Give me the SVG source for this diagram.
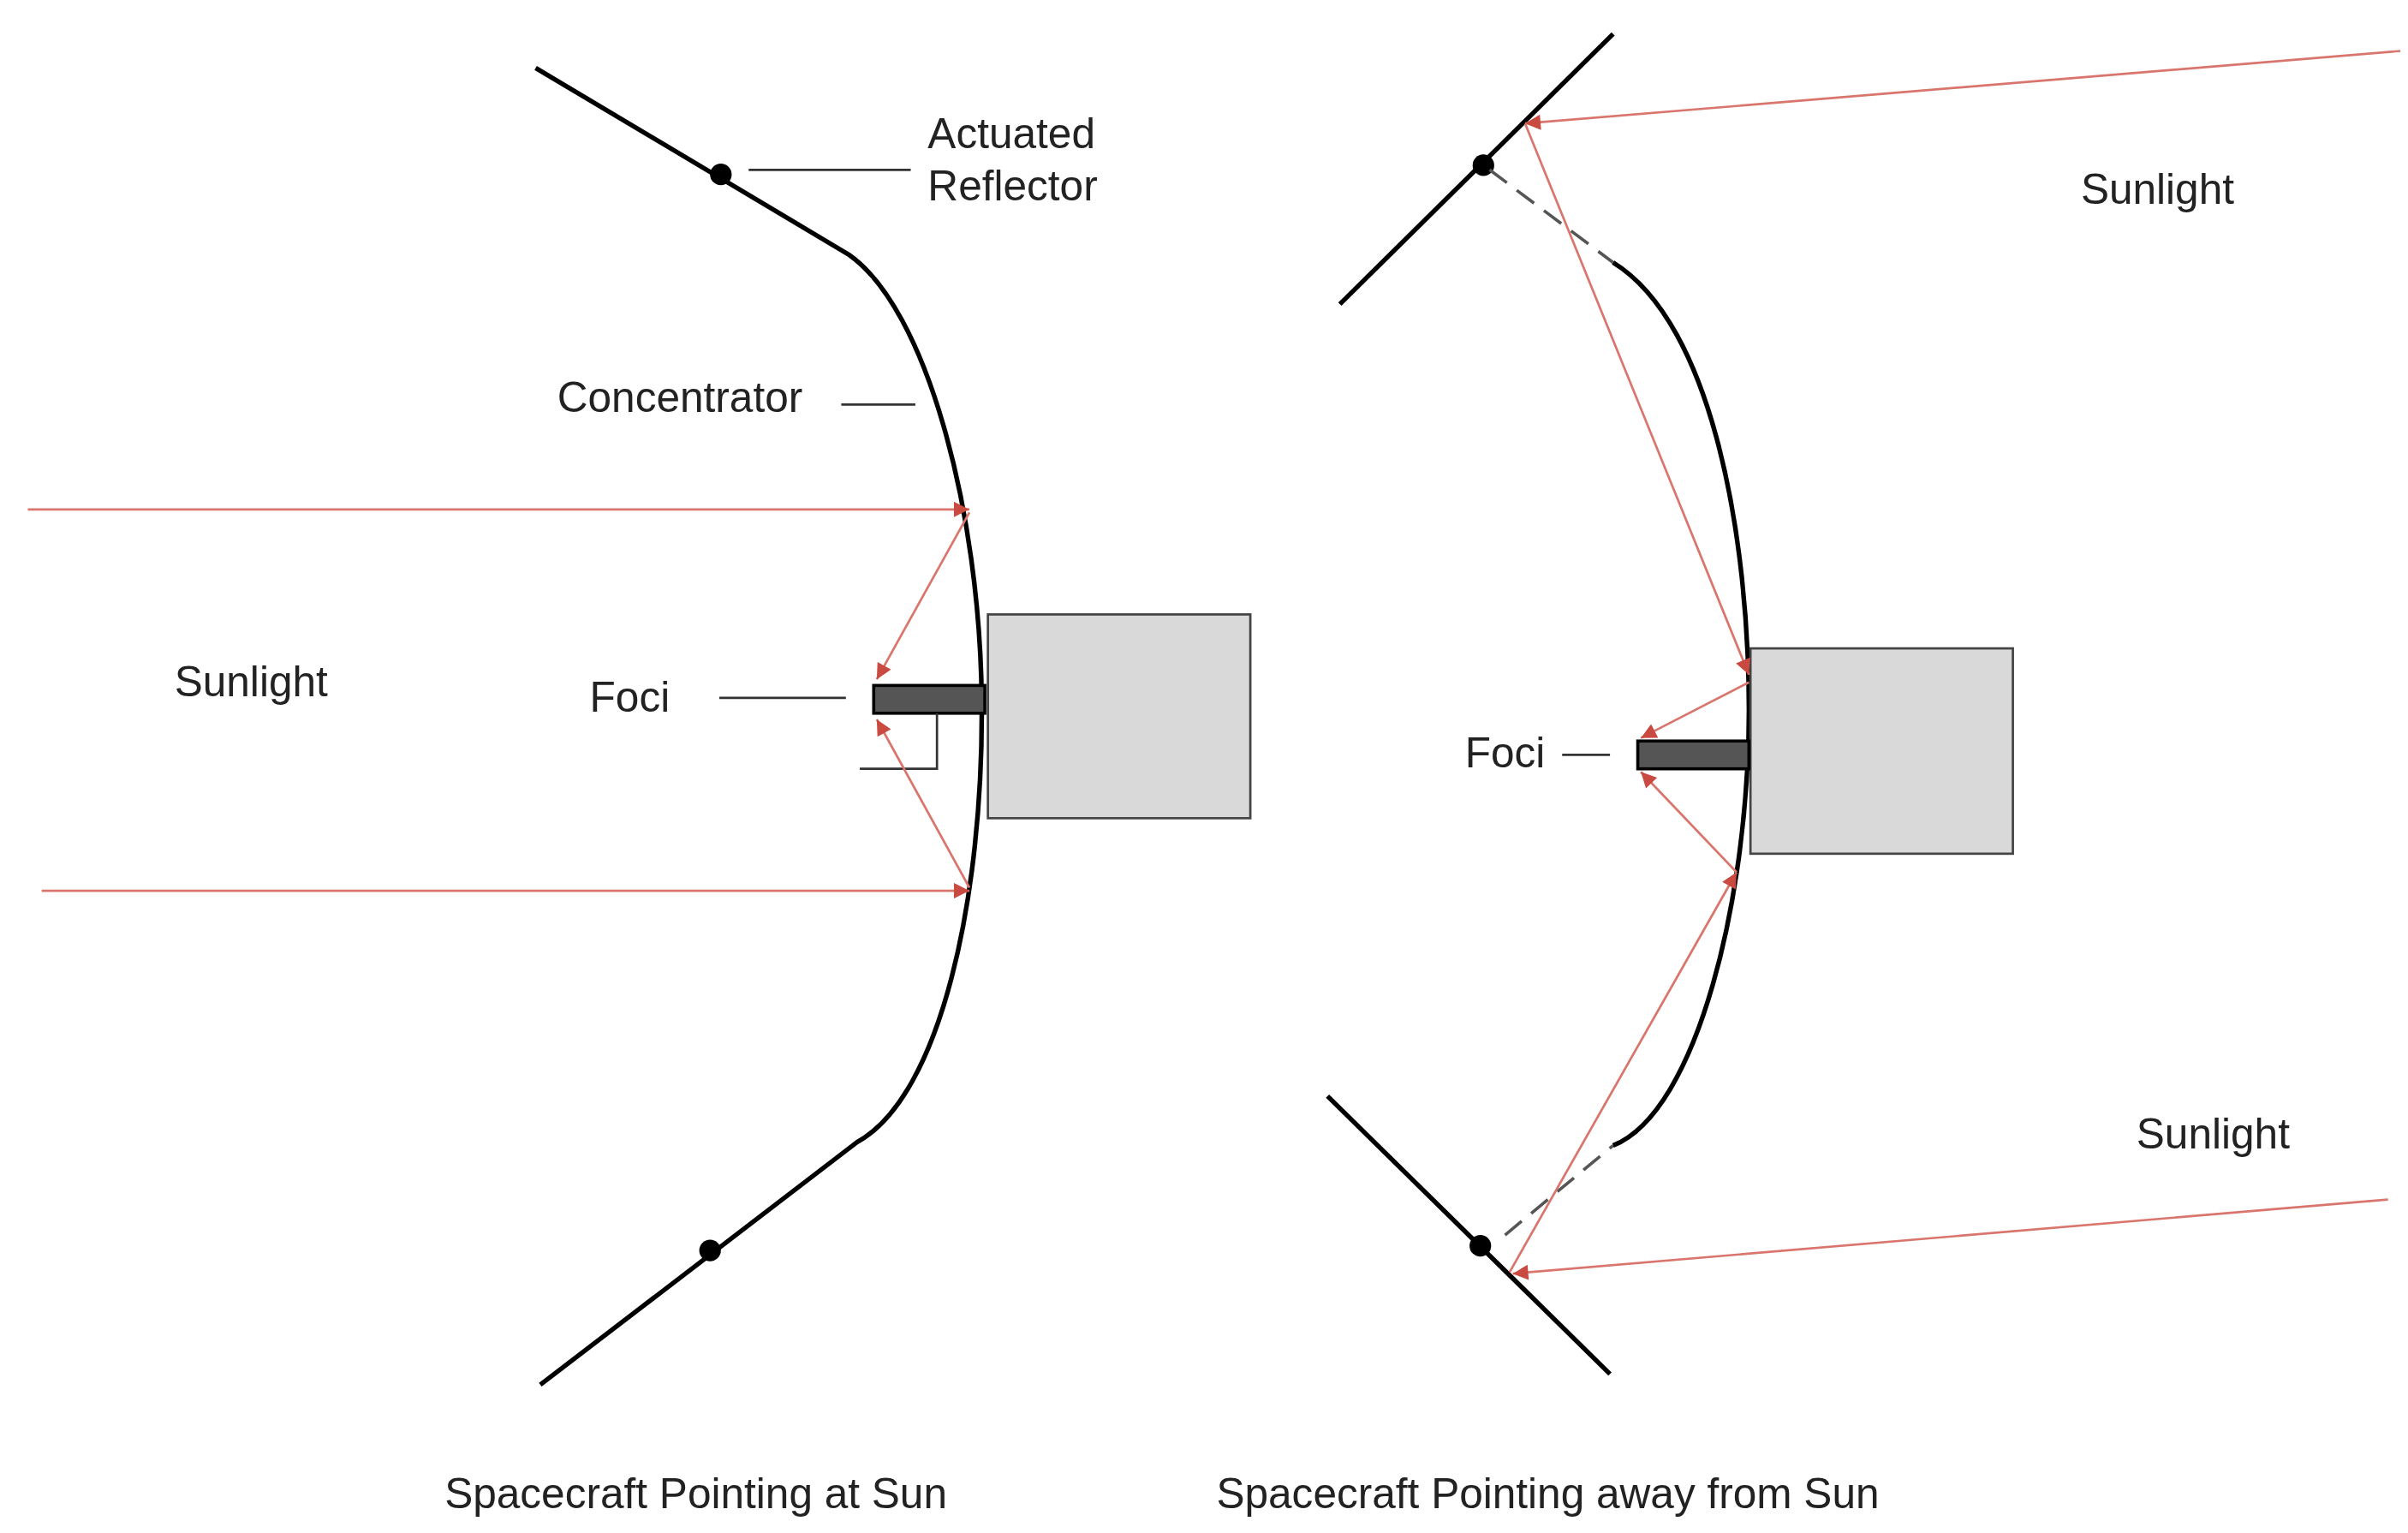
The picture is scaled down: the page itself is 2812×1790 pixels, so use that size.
<svg xmlns="http://www.w3.org/2000/svg" width="2812" height="1790" viewBox="0 0 2812 1790">
<defs>
<style>
.t{font-family:"Liberation Sans",Arial,sans-serif;font-size:27.5px;fill:#222}
.k{stroke:#000;stroke-width:3;fill:none}
.r{stroke:#d9756c;stroke-width:1.5;fill:none;marker-end:url(#ah)}
.l{stroke:#333;stroke-width:1.5}
.box{fill:#d9d9d9;stroke:#444;stroke-width:1.5}
.bar{fill:#555;stroke:#000;stroke-width:2}
.d{stroke:#555;stroke-width:2;stroke-dasharray:14,8;fill:none}
</style>
<marker id="ah" viewBox="0 0 10 10" refX="10" refY="5" markerWidth="14" markerHeight="10" markerUnits="userSpaceOnUse" orient="auto"><path d="M0,0L10,5L0,10z" fill="#c94a40"/></marker>
</defs>
<rect width="2812" height="1790" fill="#fff"/>
<g transform="scale(1.8026)">
<g id="left">
<path class="k" d="M347,44 L550,165 C600,200 635,330 636,455 C637,580 610,710 555,740 L350,897"/>
<circle cx="467" cy="113" r="7"/>
<circle cx="460" cy="810" r="7"/>
<rect class="box" x="640" y="398" width="170" height="132"/>
<rect class="bar" x="566" y="444" width="72" height="18"/>
<path class="l" fill="none" d="M607,462 V498 H557"/>
</g>
<g id="right">
<line class="k" x1="868" y1="197" x2="1045" y2="22"/>
<line class="k" x1="860" y1="710" x2="1043" y2="890"/>
<circle cx="961" cy="107" r="7"/>
<circle cx="959" cy="807" r="7"/>
<path class="d" d="M965,110 L1045,170"/>
<path class="d" d="M975,800 L1045,742"/>
<path class="k" d="M1045,170 C1110,210 1133,350 1133,460 C1133,580 1100,720 1045,742"/>
<rect class="box" x="1134" y="420" width="170" height="133"/>
<rect class="bar" x="1061" y="480" width="72" height="18"/>
</g>
<g id="connectors">
<line class="r" x1="18" y1="330" x2="628" y2="330"/>
<line class="r" x1="27" y1="577" x2="628" y2="577"/>
<line class="r" x1="628" y1="332" x2="568" y2="440"/>
<line class="r" x1="628" y1="575" x2="568" y2="466"/>
<line class="r" x1="1555" y1="33" x2="988" y2="80"/>
<line class="r" x1="988" y1="80" x2="1133" y2="437"/>
<line class="r" x1="1133" y1="442" x2="1063" y2="478"/>
<line class="r" x1="1547" y1="777" x2="980" y2="825"/>
<line class="r" x1="978" y1="824" x2="1125" y2="565"/>
<line class="r" x1="1125" y1="565" x2="1063" y2="500"/>
<line class="l" x1="485" y1="110" x2="590" y2="110"/>
<line class="l" x1="545" y1="262" x2="593" y2="262"/>
<line class="l" x1="466" y1="452" x2="548" y2="452"/>
<line class="l" x1="1012" y1="489" x2="1043" y2="489"/>
</g>
<g id="labels">
<text class="t" x="601" y="96">Actuated</text>
<text class="t" x="601" y="130">Reflector</text>
<text class="t" x="361" y="267">Concentrator</text>
<text class="t" x="113" y="451">Sunlight</text>
<text class="t" x="382" y="461">Foci</text>
<text class="t" x="949" y="497">Foci</text>
<text class="t" x="1348" y="132">Sunlight</text>
<text class="t" x="1384" y="744">Sunlight</text>
<text class="t" x="288" y="977">Spacecraft Pointing at Sun</text>
<text class="t" x="788" y="977">Spacecraft Pointing away from Sun</text>
</g>
</g>
</svg>
